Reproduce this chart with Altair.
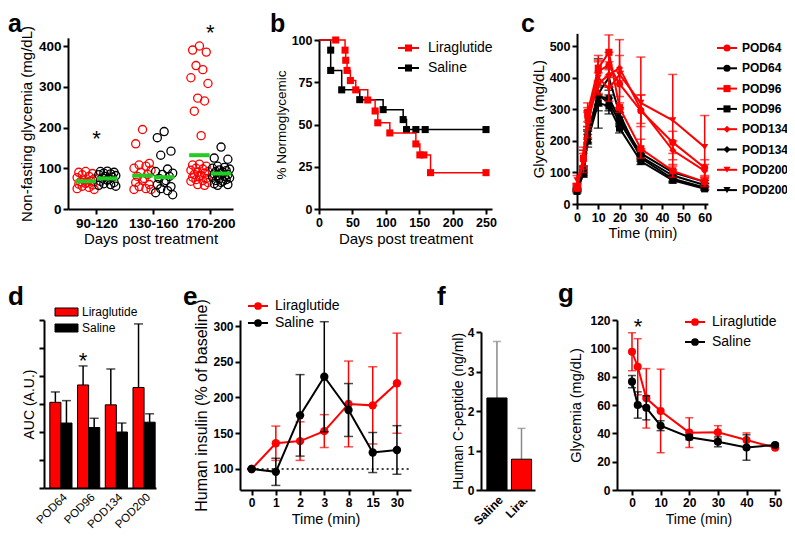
import json
import altair as alt
import pandas as pd

FONT = "Liberation Sans"
RED = "#ff0000"
BLACK = "#000000"
GREEN = "#22cc22"
GREY = "#8a8a8a"

W, H = 779, 523  # view size = page 795x539 minus the 8px margins


def V(p):
    """page pixel -> view pixel"""
    return p - 8


# ------------------------------------------------------------------ data
# (a) non-fasting glycemia (mg/dL) by period, Liraglutide (red) / Saline (black)
a_groups = ["90-120", "130-160", "170-200"]
a_lira_90 = [92, 90, 87, 84, 80, 77, 74, 71, 69, 67, 65, 63, 61, 59, 56, 53, 50, 48]
a_sal_90 = [93, 92, 90, 88, 86, 84, 82, 80, 78, 76, 73, 71, 68, 65, 62, 60, 58, 56]
a_lira_130 = [195, 160, 112, 108, 105, 100, 95, 90, 85, 80, 75, 70, 65, 60, 55, 50, 48, 48]
a_sal_130 = [190, 175, 142, 132, 98, 92, 88, 85, 80, 75, 70, 65, 60, 55, 50, 45, 40, 35]
a_lira_170 = [400, 390, 385, 352, 342, 322, 308, 272, 265, 240, 180, 110, 108, 105, 100,
              98, 95, 92, 90, 88, 85, 82, 80, 78, 75, 72, 70, 68, 65, 60, 58]
a_sal_170 = [152, 125, 122, 105, 102, 100, 98, 96, 94, 92, 90, 88, 86, 84, 82, 80, 78,
             76, 74, 72, 70, 68, 65, 62, 60, 58]
a_mean_lira = [68, 82, 132]
a_mean_sal = [75, 78, 87]
a_star_group = [0, 2]
a_star_value = [185, 447]

# (b) % normoglycemic (Kaplan-Meier)
b_lira_day = [0, 25, 39, 40, 42, 47, 55, 73, 84, 88, 106, 145, 151, 157, 167, 250]
b_lira_pct = [100, 100, 94, 88, 82, 76, 70.5, 64.5, 58, 51, 45, 38.5, 32, 32, 21.5, 21.5]
b_sal_day = [0, 17.5, 17.5, 34, 61, 96, 126, 131, 145, 159, 250]
b_sal_pct = [100, 94, 82, 70.5, 64.7, 58.8, 52.9, 47, 47, 47, 47]

# (c) glucose tolerance test
c_time = [0, 3, 5, 10, 15, 20, 30, 45, 60]
c_series = ["POD64", "POD96", "POD134", "POD200"]
c_lira_pod64 = [50, 140, 275, 420, 440, 380, 295, 195, 115]
c_lira_pod96 = [55, 145, 290, 430, 480, 305, 175, 105, 70]
c_lira_pod134 = [55, 150, 265, 380, 410, 430, 300, 170, 105]
c_lira_pod200 = [75, 130, 250, 400, 365, 410, 320, 265, 180]
c_lira_err64 = [10, 30, 30, 35, 40, 40, 50, 35, 25]
c_lira_err96 = [10, 25, 30, 40, 55, 15, 30, 20, 15]
c_lira_err134 = [10, 30, 30, 35, 40, 40, 45, 30, 20]
c_lira_err200 = [15, 30, 40, 50, 40, 110, 145, 145, 100]
c_sal_pod64 = [45, 105, 215, 340, 335, 270, 160, 100, 70]
c_sal_pod96 = [40, 95, 200, 320, 310, 240, 135, 75, 48]
c_sal_pod134 = [50, 110, 225, 345, 320, 260, 150, 90, 60]
c_sal_pod200 = [45, 100, 210, 350, 400, 285, 145, 80, 52]
c_sal_err64 = [5, 10, 20, 30, 25, 20, 10, 8, 5]
c_sal_err96 = [5, 10, 20, 25, 25, 15, 10, 8, 5]
c_sal_err134 = [5, 10, 20, 30, 25, 15, 10, 8, 5]
c_sal_err200 = [5, 10, 20, 110, 30, 20, 10, 8, 5]

# (d) AUC
d_groups = ["POD64", "POD96", "POD134", "POD200"]
d_lira = [3.06, 3.68, 2.97, 3.59]
d_lira_err = [0.37, 0.68, 1.28, 2.27]
d_sal = [2.32, 2.16, 2.0, 2.35]
d_sal_err = [0.8, 0.33, 0.32, 0.3]
d_star_pos = [0.8]
d_star_value = [4.75]

# (e) human insulin (% of baseline)
e_time_labels = ["0", "1", "2", "3", "8", "15", "30"]
e_lira = [100, 136, 139, 153, 191, 189, 220]
e_lira_sem = [0, 24, 27, 23, 60, 54, 70]
e_sal = [100, 96, 175, 229, 182.5, 123, 126.6]
e_sal_sem = [0, 19, 57, 77, 37, 28, 34]
e_baseline = 100

# (f) human C-peptide (ng/ml)
f_labels = ["Saline", "Lira."]
f_values = [2.33, 0.78]
f_err = [1.43, 0.78]

# (g) insulin tolerance test
g_time = [0, 2, 5, 10, 20, 30, 40, 50]
g_lira = [97.6, 87, 64.7, 55.8, 40.5, 40.7, 35.3, 29.9]
g_lira_sem = [13.4, 19.8, 21, 29.5, 10.5, 4.7, 5, 0]
g_sal = [76.5, 60, 58, 45.4, 37.2, 34, 30, 31.8]
g_sal_sem = [4.3, 9.3, 8.5, 3.5, 1.7, 3.5, 9, 1]
g_star_time = [2.1]
g_star_value = [119]

legend_series = ["Liraglutide", "Saline"]

# ------------------------------------------------------------------ helpers


def lin(domain, rng):
    return alt.Scale(domain=domain, range=rng, zero=False, nice=False)


def bottom_axis(y_page, title, values, lsize=12.5, tsize=14.5, tpad=3, **kw):
    return alt.Axis(orient="bottom", offset=V(y_page) - H, values=values, title=title,
                    labelFontSize=lsize, titleFontSize=tsize, titlePadding=tpad, **kw)


def left_axis(x_page, title, values, lsize=12.5, tsize=14.5, tpad=3, **kw):
    return alt.Axis(orient="left", offset=-V(x_page), values=values, title=title,
                    labelFontSize=lsize, titleFontSize=tsize, titlePadding=tpad, **kw)


class Panel:
    def __init__(self, sx, sy, ax, ay):
        self.sx, self.sy, self.ax, self.ay = sx, sy, ax, ay

    def X(self, f):
        return alt.X(f, type="quantitative", scale=self.sx, axis=self.ax)

    def Y(self, f):
        return alt.Y(f, type="quantitative", scale=self.sy, axis=self.ay)


def series(p, xs, ys, color, shape, size, lw, interpolate="linear", marker_from=0):
    df = pd.DataFrame({"x": xs, "y": ys})
    line = alt.Chart(df).mark_line(color=color, strokeWidth=lw, interpolate=interpolate).encode(
        x=p.X("x"), y=p.Y("y"))
    pts = alt.Chart(df.iloc[marker_from:]).mark_point(
        shape=shape, filled=True, color=color, size=size, opacity=1).encode(x=p.X("x"), y=p.Y("y"))
    return line, pts


def errbars(p, xs, lo, hi, color, cap, lw=1.5, caps=("lo", "hi")):
    df = pd.DataFrame({"x": xs, "lo": lo, "hi": hi})
    out = [alt.Chart(df).mark_rule(color=color, strokeWidth=lw).encode(
        x=p.X("x"), y=p.Y("lo"), y2=alt.Y2("hi"))]
    for f in caps:
        out.append(alt.Chart(df).mark_tick(orient="horizontal", size=cap, thickness=lw,
                                           color=color).encode(x=p.X("x"), y=p.Y(f)))
    return out


def star(p, xs, ys, fs=22):
    df = pd.DataFrame({"x": xs, "y": ys})
    return alt.Chart(df).mark_text(text="*", font=FONT, fontSize=fs, dy=0.58 * fs - 7,
                                   color=BLACK).encode(x=p.X("x"), y=p.Y("y"))


def PX(f):
    return alt.X(f, type="quantitative", scale=None, axis=None)


def PY(f):
    return alt.Y(f, type="quantitative", scale=None, axis=None)


def line_legend(labels, colors, shapes, x0, x1, xt, y0, dy, fs, weight, msize):
    rows = []
    for i, (lab, col, shp) in enumerate(zip(labels, colors, shapes)):
        rows.append(dict(t=lab, c=col, s=shp, x0=V(x0), x1=V(x1), xm=V((x0 + x1) / 2),
                         xt=V(xt), y=V(y0 + i * dy)))
    df = pd.DataFrame(rows)
    base = alt.Chart(df)
    col = alt.Color("c:N", scale=None)
    return [
        base.mark_rule(strokeWidth=2).encode(x=PX("x0"), x2=alt.X2("x1"), y=PY("y"), color=col),
        base.mark_point(filled=True, size=msize, opacity=1).encode(
            x=PX("xm"), y=PY("y"), color=col, shape=alt.Shape("s:N", scale=None)),
        base.mark_text(font=FONT, fontSize=fs, fontWeight=weight, align="left",
                       baseline="middle", color=BLACK).encode(x=PX("xt"), y=PY("y"), text="t:N"),
    ]


panels = []

# ------------------------------------------------------------------ panel a
JIT = [0.0, -0.12, 0.12, -0.06, 0.06, -0.15, 0.15, -0.03, 0.09, -0.09, 0.03]
A_OFF = 0.19
pa = Panel(
    lin([-0.5, 2.4], [V(68), V(233)]),
    lin([0, 420], [V(209), V(209) - 420 * 163 / 400]),
    bottom_axis(209, "Days post treatment", [0, 1, 2], lsize=13.5, tsize=15, tpad=2,
                labelExpr=f"{json.dumps(a_groups)}[datum.value]"),
    left_axis(68, "Non-fasting glycemia (mg/dL)", [0, 100, 200, 300, 400], lsize=13.5,
              tsize=15, tpad=4),
)
a_layers = []
for lists, off, color in [([a_lira_90, a_lira_130, a_lira_170], -A_OFF, RED),
                          ([a_sal_90, a_sal_130, a_sal_170], A_OFF, BLACK)]:
    rows = []
    for gi, vals in enumerate(lists):
        for k, v in enumerate(sorted(vals, reverse=True)):
            rows.append({"x": gi + off + JIT[k % len(JIT)], "y": v})
    a_layers.append(alt.Chart(pd.DataFrame(rows)).mark_point(
        shape="circle", filled=False, color=color, size=66, strokeWidth=1.3, opacity=1).encode(
        x=pa.X("x"), y=pa.Y("y")))
mean_rows = []
for gi in range(3):
    mean_rows.append({"x0": gi - A_OFF - 0.18, "x1": gi - A_OFF + 0.18, "m": a_mean_lira[gi]})
    mean_rows.append({"x0": gi + A_OFF - 0.18, "x1": gi + A_OFF + 0.18, "m": a_mean_sal[gi]})
a_layers.append(alt.Chart(pd.DataFrame(mean_rows)).mark_rule(color=GREEN, strokeWidth=4).encode(
    x=pa.X("x0"), x2=alt.X2("x1"), y=pa.Y("m")))
a_layers.append(star(pa, a_star_group, a_star_value))
panels.append(alt.layer(*a_layers))

# ------------------------------------------------------------------ panel b
pb = Panel(
    lin([0, 259], [V(319), V(319) + 259 * 0.668]),
    lin([0, 100], [V(209), V(40)]),
    bottom_axis(209, "Days post treatment", [0, 50, 100, 150, 200, 250], lsize=12.5, tsize=15,
                tpad=3),
    left_axis(319, "% Normoglycemic", [0, 25, 50, 75, 100], lsize=12.5, tsize=13.5, tpad=3),
)
b_layers = []
for days, pct, color in [(b_sal_day, b_sal_pct, BLACK), (b_lira_day, b_lira_pct, RED)]:
    ln, pts = series(pb, days, pct, color, "square", 50, 1.5, interpolate="step-after",
                     marker_from=1)
    b_layers += [ln, pts]
panels.append(alt.layer(*b_layers))

# ------------------------------------------------------------------ panel c
pc = Panel(
    lin([0, 61.5], [V(577), V(577) + 61.5 * 2.128]),
    lin([0, 540], [V(204), V(204) - 540 * 0.316]),
    bottom_axis(204, "Time (min)", [0, 10, 20, 30, 40, 50, 60], lsize=12.5, tsize=14.5, tpad=3),
    left_axis(577, "Glycemia (mg/dL)", [0, 100, 200, 300, 400, 500], lsize=12.5, tsize=15,
              tpad=3),
)
c_shapes = ["circle", "square", "diamond", "triangle-down"]
c_lira_all = [c_lira_pod64, c_lira_pod96, c_lira_pod134, c_lira_pod200]
c_lira_errs = [c_lira_err64, c_lira_err96, c_lira_err134, c_lira_err200]
c_sal_all = [c_sal_pod64, c_sal_pod96, c_sal_pod134, c_sal_pod200]
c_sal_errs = [c_sal_err64, c_sal_err96, c_sal_err134, c_sal_err200]
c_layers = []
for vals_all, errs_all, color in [(c_sal_all, c_sal_errs, BLACK), (c_lira_all, c_lira_errs, RED)]:
    for vals, errs, shp in zip(vals_all, errs_all, c_shapes):
        lo = [v - e for v, e in zip(vals, errs)]
        hi = [v + e for v, e in zip(vals, errs)]
        c_layers += errbars(pc, c_time, lo, hi, color, 9, lw=1.5)
        ln, pts = series(pc, c_time, vals, color, shp, 50, 2)
        c_layers += [ln, pts]
panels.append(alt.layer(*c_layers))

# ------------------------------------------------------------------ panel d
pd_ = Panel(
    lin([-0.61, 3.43], [V(44), V(156)]),
    lin([0, 6], [V(488), V(320)]),
    bottom_axis(488, None, [0, 1, 2, 3], lsize=11.5, labelAngle=315, labelAlign="right",
                labelBaseline="top", labelFontWeight="normal", ticks=False, labelPadding=3,
                labelExpr=f"{json.dumps(d_groups)}[datum.value]"),
    left_axis(44, "AUC (A.U.)", [0, 1, 2, 3, 4, 5, 6], tsize=14, tpad=2, labels=False),
)
d_layers = []
for vals, errs, color, x0off in [(d_lira, d_lira_err, RED, -0.4), (d_sal, d_sal_err, BLACK, 0.0)]:
    df = pd.DataFrame({"x0": [i + x0off for i in range(4)], "x1": [i + x0off + 0.4 for i in range(4)],
                       "v": vals, "b": [0] * 4})
    d_layers.append(alt.Chart(df).mark_rect(color=color, stroke=BLACK, strokeWidth=1).encode(
        x=pd_.X("x0"), x2=alt.X2("x1"), y=pd_.Y("b"), y2=alt.Y2("v")))
    xc = [i + x0off + 0.2 for i in range(4)]
    d_layers += errbars(pd_, xc, vals, [v + e for v, e in zip(vals, errs)], BLACK, 9, lw=1.5,
                        caps=("hi",))
d_layers.append(star(pd_, d_star_pos, d_star_value))
panels.append(alt.layer(*d_layers))

# ------------------------------------------------------------------ panel e
pe = Panel(
    lin([-0.48, 6.58], [V(240), V(411)]),
    lin([70.6, 308.4], [V(490), V(320)]),
    bottom_axis(490, "Time (min)", list(range(7)), lsize=12, tsize=14.5, tpad=4,
                labelExpr=f"{json.dumps(e_time_labels)}[datum.value]"),
    left_axis(240, "Human insulin (% of baseline)", [100, 150, 200, 250, 300], lsize=12,
              tsize=16, tpad=3),
)
e_layers = [alt.Chart(pd.DataFrame({"b": [e_baseline]})).mark_rule(
    color=BLACK, strokeWidth=1.5, strokeDash=[2, 3]).encode(
    x=alt.X(datum=0, type="quantitative", scale=pe.sx, axis=pe.ax),
    x2=alt.X2(datum=6.58), y=pe.Y("b"))]
e_idx = list(range(7))
for vals, sem, color in [(e_lira, e_lira_sem, RED), (e_sal, e_sal_sem, BLACK)]:
    e_layers += errbars(pe, e_idx, [v - s for v, s in zip(vals, sem)],
                        [v + s for v, s in zip(vals, sem)], color, 9, lw=1.5)
    ln, pts = series(pe, e_idx, vals, color, "circle", 70, 2)
    e_layers += [ln, pts]
panels.append(alt.layer(*e_layers))

# ------------------------------------------------------------------ panel f
pf = Panel(
    lin([-0.65, 1.55], [V(481), V(535)]),
    lin([0, 4], [V(490), V(332)]),
    bottom_axis(490, None, [0, 1], lsize=12, labelAngle=315, labelAlign="right",
                labelBaseline="top", ticks=False, labelPadding=4,
                labelExpr=f"{json.dumps(f_labels)}[datum.value]"),
    left_axis(481, "Human C-peptide (ng/ml)", [0, 1, 2, 3, 4], lsize=12, tsize=14, tpad=2),
)
f_idx = [0, 1]
f_df = pd.DataFrame({"x0": [i - 0.41 for i in f_idx], "x1": [i + 0.41 for i in f_idx],
                     "v": f_values, "b": [0, 0], "c": [BLACK, RED]})
f_layers = errbars(pf, f_idx, f_values, [v + e for v, e in zip(f_values, f_err)], GREY, 8,
                   lw=1.5, caps=("hi",))
f_layers.append(alt.Chart(f_df).mark_rect(stroke=BLACK, strokeWidth=1).encode(
    x=pf.X("x0"), x2=alt.X2("x1"), y=pf.Y("b"), y2=alt.Y2("v"),
    color=alt.Color("c:N", scale=None)))
panels.append(alt.layer(*f_layers))

# ------------------------------------------------------------------ panel g
pg = Panel(
    lin([-5.24, 51.7], [V(617), V(780)]),
    lin([0, 120], [V(490), V(320)]),
    bottom_axis(490, "Time (min)", [0, 10, 20, 30, 40, 50], lsize=12, tsize=14, tpad=4),
    left_axis(617, "Glycemia (mg/dL)", [0, 20, 40, 60, 80, 100, 120], lsize=12, tsize=14.5,
              tpad=6),
)
g_layers = []
for vals, sem, color in [(g_lira, g_lira_sem, RED), (g_sal, g_sal_sem, BLACK)]:
    g_layers += errbars(pg, g_time, [v - s for v, s in zip(vals, sem)],
                        [v + s for v, s in zip(vals, sem)], color, 8, lw=1.5)
    ln, pts = series(pg, g_time, vals, color, "circle", 65, 2)
    g_layers += [ln, pts]
g_layers.append(star(pg, g_star_time, g_star_value))
panels.append(alt.layer(*g_layers))

# ------------------------------------------------------------------ legends and letters
deco = []
deco += line_legend(legend_series, [RED, BLACK], ["square", "square"], 398, 419, 428, 48, 20,
                    14, "normal", 50)
c_leg_labels, c_leg_colors, c_leg_shapes = [], [], []
for name, shp in zip(c_series, c_shapes):
    for col in (RED, BLACK):
        c_leg_labels.append(name)
        c_leg_colors.append(col)
        c_leg_shapes.append(shp)
deco += line_legend(c_leg_labels, c_leg_colors, c_leg_shapes, 717, 737, 742, 48, 20.3, 12,
                    "bold", 50)
deco += line_legend(legend_series, [RED, BLACK], ["circle", "circle"], 248, 268, 275, 306, 17,
                    14, "normal", 60)
deco += line_legend(legend_series, [RED, BLACK], ["circle", "circle"], 685, 705, 712, 322, 20,
                    14, "normal", 60)

d_leg = pd.DataFrame({"t": legend_series, "c": [RED, BLACK],
                      "x0": [V(55)] * 2, "x1": [V(78)] * 2,
                      "y0": [V(308), V(324)], "y1": [V(316), V(332)],
                      "xt": [V(82)] * 2, "yt": [V(312), V(328)]})
deco.append(alt.Chart(d_leg).mark_rect(stroke=BLACK, strokeWidth=1).encode(
    x=PX("x0"), x2=alt.X2("x1"), y=PY("y0"), y2=alt.Y2("y1"), color=alt.Color("c:N", scale=None)))
deco.append(alt.Chart(d_leg).mark_text(font=FONT, fontSize=12, align="left", baseline="middle",
                                       color=BLACK).encode(x=PX("xt"), y=PY("yt"), text="t:N"))

letters = pd.DataFrame({
    "t": ["a", "b", "c", "d", "e", "f", "g"],
    "px": [V(8), V(270), V(521), V(8), V(183), V(437), V(558)],
    "py": [V(32), V(32), V(32), V(305), V(305), V(305), V(302)],
    "fs": [25, 25, 25, 26, 26, 26, 26],
})
deco.append(alt.Chart(letters).mark_text(font=FONT, fontWeight="bold", align="left",
                                         baseline="alphabetic", color=BLACK).encode(
    x=PX("px"), y=PY("py"), text="t:N", size=alt.Size("fs:Q", scale=None)))

chart = alt.layer(*panels, *deco).resolve_scale(x="independent", y="independent").properties(
    width=W, height=H, padding=0, autosize=alt.AutoSizeParams(type="none"), background="white"
).configure_view(stroke=None).configure_axis(
    domainColor=BLACK, domainWidth=2, tickColor=BLACK, tickWidth=2, tickSize=5,
    labelColor=BLACK, labelFont=FONT, labelFontWeight="bold", labelPadding=2,
    labelFlush=False, labelOverlap=False, titleFont=FONT, titleFontWeight="normal",
    titleColor=BLACK, grid=False,
)

chart.save("out.html", embed_options={"renderer": "svg", "actions": False})
